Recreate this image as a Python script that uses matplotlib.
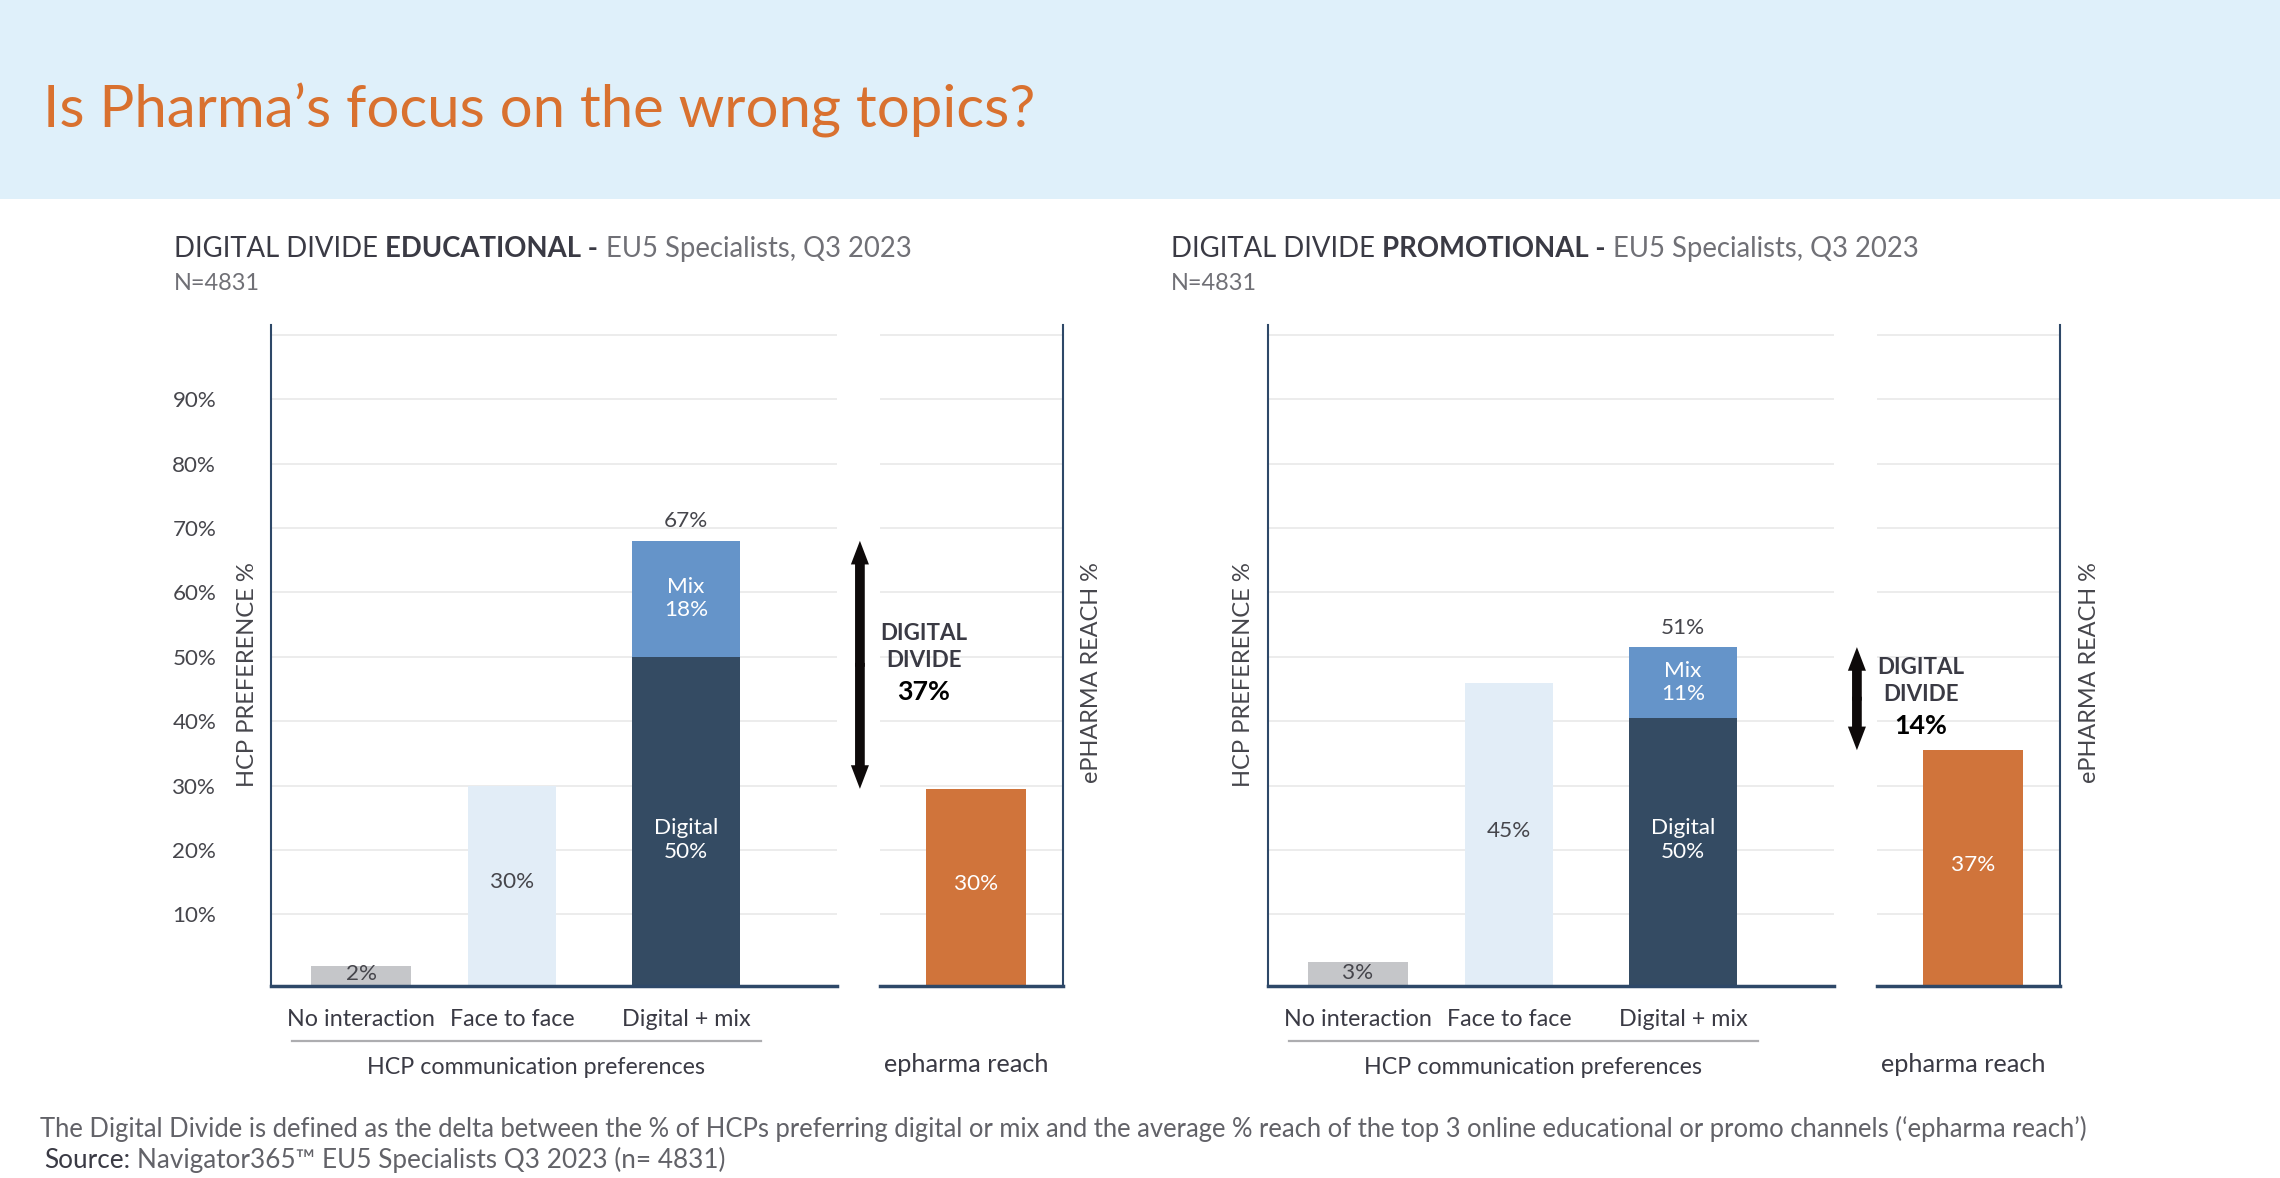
import matplotlib
matplotlib.use("Agg")
import matplotlib.pyplot as plt
import matplotlib.transforms as mtransforms
from matplotlib.patches import Rectangle

plt.rcParams["font.family"] = ["Lato", "DejaVu Sans"]

# ---------------- data ----------------
panel_topics = ["EDUCATIONAL", "PROMOTIONAL"]
categories = ["No interaction", "Face to face", "Digital + mix"]
no_interaction = [2.0, 2.7]
face_to_face = [30.0, 46.0]
digital = [50.0, 40.5]
mix = [18.0, 11.0]
epharma_reach = [29.5, 35.5]
no_interaction_labels = ["2%", "3%"]
face_to_face_labels = ["30%", "45%"]
digital_labels = ["50%", "50%"]
mix_labels = ["18%", "11%"]
total_labels = ["67%", "51%"]
epharma_labels = ["30%", "37%"]
digital_divide_labels = ["37%", "14%"]
y_ticks = [10, 20, 30, 40, 50, 60, 70, 80, 90, 100]
y_tick_labels = ["10%", "20%", "30%", "40%", "50%", "60%", "70%", "80%", "90%", ""]
sample_label = "N=4831"

TITLE = "Is Pharma\u2019s focus on the wrong topics?"
FOOTNOTE = ("The Digital Divide is defined as the delta between the % of HCPs preferring digital or mix "
            "and the average % reach of the top 3 online educational or promo channels (\u2018epharma reach\u2019)")
SOURCE_HEAD = "Source:"
SOURCE_BODY = "Navigator365\u2122 EU5 Specialists Q3 2023 (n= 4831)"

# ---------------- style / layout ----------------
W, H = 2280, 1178
HEADER = "#DFF0FA"
ORANGE_TITLE = "#D9712F"
C_NONE = "#C5C6C9"
C_F2F = "#E2EDF7"
C_DIG = "#344B63"
C_MIX = "#6594C9"
C_REACH = "#D0743B"
NAVY = "#2E4868"
GRID = "#EAEAEA"
DARK = "#3A3A44"
MID = "#46464C"
LIGHT = "#707076"
ARROW = "#0E0A0A"

X_POS = [0.0, 0.93, 2.0]
BAR_W = [0.615, 0.54, 0.66]
REACH_W = 1.0
SHIFT = 997
Y_LO, Y_HI = -1.1, 101.5
ARROW_X = 3.07

fig = plt.figure(figsize=(W / 100, H / 100), dpi=100)
bg = fig.add_axes([0, 0, 1, 1], zorder=0)
bg.set_xlim(0, W)
bg.set_ylim(H, 0)
bg.axis("off")
bg.add_patch(Rectangle((0, 0), W, 199, color=HEADER, lw=0))

R = fig.canvas.get_renderer()


def measure(s, fs=20, weight="normal"):
    t = bg.text(0, 0, s, fontsize=fs, fontweight=weight)
    w = t.get_window_extent(R).width
    t.remove()
    return w


def fit(s, target, weight="normal"):
    return 20 * target / measure(s, 20, weight)


def text_line(x0, y, pieces, target_w=None, fs=None):
    base = 20
    ws = [measure(s, base, wt) for s, wt, c in pieces]
    sp = measure("a a", base) - measure("aa", base)
    total = sum(ws) + sp * (len(pieces) - 1)
    if fs is None:
        fs = base * target_w / total
    k = fs / base
    x = x0
    for (s, wt, c), w in zip(pieces, ws):
        bg.text(x, y, s, fontsize=fs, fontweight=wt, color=c, ha="left", va="baseline")
        x += (w + sp) * k
    return fs


title_fs = fit(TITLE, 994)
tick_fs = fit("90%", 44)
val_fs = fit("30%", 44)
xl_fs = fit("No interaction", 148)
grp_fs = fit("HCP communication preferences", 338)
reach_fs = fit("epharma reach", 165)
ylab_fs = fit("HCP PREFERENCE %", 225)
ylab2_fs = fit("ePHARMA REACH %", 221)
n_fs = fit(sample_label, 86)
dd_fs = fit("DIGITAL", 87, "bold")
ddv_fs = fit("37%", 53, "bold")

# header title
bg.text(43, 128, TITLE, fontsize=title_fs, color=ORANGE_TITLE, ha="left", va="baseline")

sub_fs = None
for p in range(2):
    s = p * SHIFT
    pieces = [("DIGITAL DIVIDE", "normal", DARK),
              (panel_topics[p] + " -", "bold", DARK),
              ("EU5 Specialists, Q3 2023", "normal", LIGHT)]
    if sub_fs is None:
        sub_fs = text_line(174 + s, 257, pieces, target_w=738)
    else:
        text_line(174 + s, 257, pieces, fs=sub_fs)
    bg.text(174 + s, 290, sample_label, fontsize=n_fs, color=LIGHT, ha="left", va="baseline")

    # ---- preference axes (drawn above the reach axes so the annotation sits on top) ----
    ax = fig.add_axes([(271 + s) / W, 1 - 986 / H, 566 / W, 661 / H], zorder=3)
    ax.set_facecolor("none")
    ax.set_xlim(-0.554, 2.929)
    ax.set_ylim(Y_LO, Y_HI)
    ax.set_yticks(y_ticks)
    ax.yaxis.grid(True, color=GRID, lw=1.3)
    ax.set_axisbelow(True)
    ax.set_xticks([])
    if p == 0:
        ax.set_yticklabels(y_tick_labels)
        ax.tick_params(axis="y", length=0, pad=39.5, labelsize=tick_fs, labelcolor=MID)
    else:
        ax.tick_params(axis="y", length=0, labelleft=False)
    for sp_ in ("top", "right"):
        ax.spines[sp_].set_visible(False)
    ax.spines["left"].set_color(NAVY)
    ax.spines["left"].set_linewidth(1.5)
    ax.spines["bottom"].set_color(NAVY)
    ax.spines["bottom"].set_linewidth(2.5)

    base_vals = [no_interaction[p], face_to_face[p], digital[p]]
    cols = [C_NONE, C_F2F, C_DIG]
    for i in range(3):
        ax.bar(X_POS[i], base_vals[i] - Y_LO, bottom=Y_LO, width=BAR_W[i],
               color=cols[i], lw=0, zorder=2)
    ax.bar(X_POS[2], mix[p], bottom=digital[p], width=BAR_W[2], color=C_MIX, lw=0, zorder=2)

    # value labels
    ax.text(X_POS[0], no_interaction[p] * 0.35, no_interaction_labels[p], ha="center", va="center",
            fontsize=val_fs, color=MID, zorder=5)
    ax.text(X_POS[1], face_to_face[p] / 2, face_to_face_labels[p], ha="center", va="center",
            fontsize=val_fs, color=MID, zorder=5)
    ax.text(X_POS[2], 21.5, "Digital\n" + digital_labels[p], ha="center", va="center",
            fontsize=val_fs, color="white", linespacing=1.25, zorder=5)
    ax.text(X_POS[2], digital[p] + mix[p] / 2, "Mix\n" + mix_labels[p], ha="center", va="center",
            fontsize=val_fs, color="white", linespacing=1.2, zorder=5)
    ax.text(X_POS[2], digital[p] + mix[p] + 3.0, total_labels[p], ha="center", va="center",
            fontsize=val_fs, color=MID, zorder=5)

    # x labels
    trans = mtransforms.blended_transform_factory(ax.transData, bg.transData)
    for i in range(3):
        ax.text(X_POS[i], 1019, categories[i], transform=trans, ha="center", va="center",
                fontsize=xl_fs, color=DARK)
    bg.plot([292 + s, 761 + s], [1041, 1041], color="#ADADB0", lw=1.6)
    bg.text(536 + s, 1067, "HCP communication preferences", ha="center", va="center",
            fontsize=grp_fs, color=DARK)
    bg.text(966 + s, 1064, "epharma reach", ha="center", va="center", fontsize=reach_fs, color=DARK)

    # axis titles
    bg.text(247 + s, 675, "HCP PREFERENCE %", rotation=90, ha="center", va="center",
            fontsize=ylab_fs, color=MID)
    bg.text(1092 + s, 673, "ePHARMA REACH %", rotation=90, ha="center", va="center",
            fontsize=ylab2_fs, color=MID)

    # ---- epharma reach axes ----
    ax2 = fig.add_axes([(880 + s) / W, 1 - 986 / H, 183 / W, 661 / H], zorder=2)
    ax2.set_facecolor("none")
    ax2.set_xlim(-0.96, 0.87)
    ax2.set_ylim(Y_LO, Y_HI)
    ax2.set_yticks(y_ticks)
    ax2.yaxis.grid(True, color=GRID, lw=1.3)
    ax2.set_axisbelow(True)
    ax2.set_xticks([])
    ax2.tick_params(axis="y", length=0, labelleft=False)
    for sp_ in ("top", "left"):
        ax2.spines[sp_].set_visible(False)
    ax2.spines["right"].set_color(NAVY)
    ax2.spines["right"].set_linewidth(1.5)
    ax2.spines["bottom"].set_color(NAVY)
    ax2.spines["bottom"].set_linewidth(2.5)
    ax2.bar(0, epharma_reach[p] - Y_LO, bottom=Y_LO, width=REACH_W, color=C_REACH, lw=0, zorder=2)
    ax2.text(0, epharma_reach[p] / 2, epharma_labels[p], ha="center", va="center",
             fontsize=val_fs, color="white", zorder=5)

    # ---- digital divide arrow ----
    top = digital[p] + mix[p]
    bot = epharma_reach[p]
    mid = (top + bot) / 2
    style = "simple,head_length=17,head_width=13,tail_width=7"
    for end, start in ((top, mid - 0.3), (bot, mid + 0.3)):
        ax.annotate("", xy=(ARROW_X, end), xytext=(ARROW_X, start),
                    arrowprops=dict(arrowstyle=style, mutation_scale=1, fc=ARROW, ec="none",
                                    lw=0, shrinkA=0, shrinkB=0),
                    annotation_clip=False)
    ax.annotate("DIGITAL", xy=(ARROW_X, mid), xytext=(46, 22.3), textcoords="offset points",
                ha="center", va="center", fontsize=dd_fs, fontweight="bold", color=DARK,
                annotation_clip=False)
    ax.annotate("DIVIDE", xy=(ARROW_X, mid), xytext=(46, 2.9), textcoords="offset points",
                ha="center", va="center", fontsize=dd_fs, fontweight="bold", color=DARK,
                annotation_clip=False)
    ax.annotate(digital_divide_labels[p], xy=(ARROW_X, mid), xytext=(46, -19.4),
                textcoords="offset points", ha="center", va="center", fontsize=ddv_fs,
                fontweight="bold", color="black", annotation_clip=False)

# footer
text_line(40, 1137, [(FOOTNOTE, "normal", "#626268")], target_w=2056)
text_line(44, 1168, [(SOURCE_HEAD, "normal", DARK), (SOURCE_BODY, "normal", "#626268")], target_w=679)

fig.savefig("out.png", dpi=100)
